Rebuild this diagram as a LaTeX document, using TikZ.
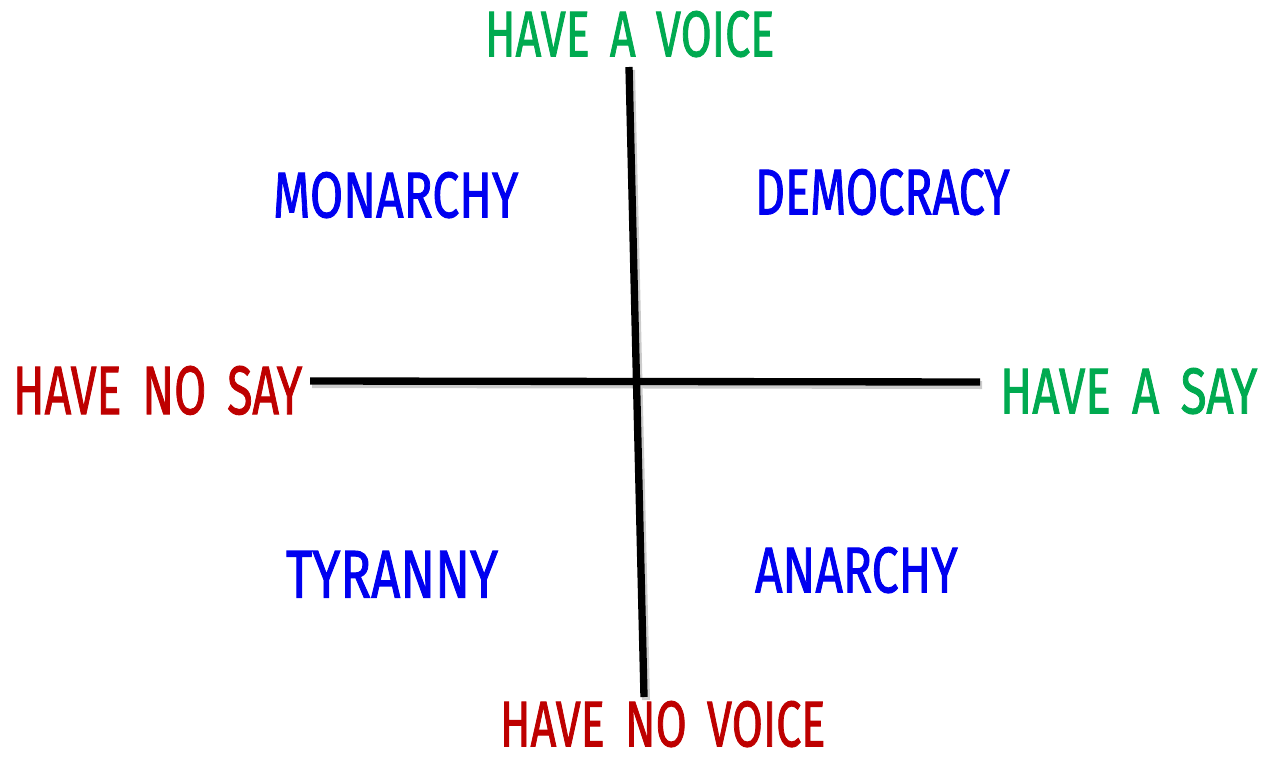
\documentclass[tikz,border=0pt]{standalone}
\usepackage{fontspec}
\setmainfont{Fira Sans}
\newfontfamily\hand{Fira Sans}[FakeBold=1.6]
\usepackage{graphicx}
\definecolor{sayg}{RGB}{0,170,80}
\definecolor{nored}{RGB}{190,0,0}
\definecolor{govblue}{RGB}{0,0,240}
\newcommand{\lbl}[3]{\resizebox{#1}{#2}{\hand #3}}
\begin{document}
\begin{tikzpicture}[x=0.75pt,y=-0.75pt,
  word/.style={inner sep=0pt,outer sep=0pt,anchor=north west},
  axis/.style={line width=5.5pt,black},
  axshadow/.style={line width=6pt,black!20}]
\useasboundingbox (0,0) rectangle (1262,756);
% axes
\coordinate (vtop) at (629,67);
\coordinate (vbot) at (644,697);
\coordinate (hl) at (310,381);
\coordinate (hr) at (980,382);
\draw[axshadow] ([shift={(2,3)}]vtop) -- ([shift={(2,3)}]vbot);
\draw[axshadow] ([shift={(2,3)}]hl) -- ([shift={(2,3)}]hr);
\draw[axis] (vtop) -- (vbot);
\draw[axis] (hl) -- (hr);
% axis labels
\node[word,text=sayg] (voice) at (485,11) {\lbl{217pt}{34pt}{HAVE\hspace{0.45em}A\hspace{0.45em}VOICE}};
\node[word,text=nored] (novoice) at (500,701) {\lbl{244pt}{34pt}{HAVE\hspace{0.45em}NO\hspace{0.45em}VOICE}};
\node[word,text=nored] (nosay) at (13,366) {\lbl{217pt}{36pt}{HAVE\hspace{0.45em}NO\hspace{0.45em}SAY}};
\node[word,text=sayg] (say) at (1000,368) {\lbl{193pt}{34pt}{HAVE\hspace{0.45em}A\hspace{0.45em}SAY}};
% quadrants
\node[word,text=govblue] (monarchy) at (273,172) {\lbl{184pt}{34pt}{MONARCHY}};
\node[word,text=govblue] (democracy) at (755,169) {\lbl{191pt}{34pt}{DEMOCRACY}};
\node[word,text=govblue] (tyranny) at (286,551) {\lbl{159pt}{35pt}{TYRANNY}};
\node[word,text=govblue] (anarchy) at (755,547) {\lbl{152pt}{34pt}{ANARCHY}};
\end{tikzpicture}
\end{document}
